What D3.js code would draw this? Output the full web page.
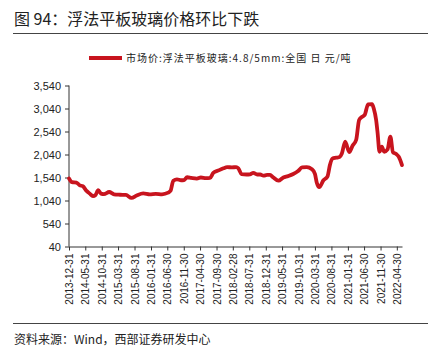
<!DOCTYPE html>
<html><head><meta charset="utf-8">
<script src="https://cdn.jsdelivr.net/npm/d3@7"></script>
<style>
body{margin:0;background:#fff;}
svg{display:block;font-family:"Liberation Sans",Arial,sans-serif;}
</style></head>
<body><svg id="c" width="439" height="356"></svg>
<script>
const title = "图 94：浮法平板玻璃价格环比下跌";
const seriesName = "市场价:浮法平板玻璃:4.8/5mm:全国 日 元/吨";
const source = "资料来源：Wind，西部证券研发中心";
const yTicks = [40, 540, 1040, 1540, 2040, 2540, 3040, 3540];
const xTickLabels = ["2013-12-31","2014-05-31","2014-10-31","2015-03-31","2015-08-31","2016-01-31","2016-06-30","2016-11-30","2017-04-30","2017-09-30","2018-02-28","2018-07-31","2018-12-31","2019-05-31","2019-10-31","2020-03-31","2020-08-31","2021-01-31","2021-06-30","2021-11-30","2022-04-30"];
const dates = ["2013-12-31","2014-01-28","2014-03-10","2014-04-10","2014-05-08","2014-06-12","2014-07-12","2014-08-10","2014-09-03","2014-09-28","2014-10-24","2014-11-20","2015-01-08","2015-02-22","2015-04-18","2015-06-12","2015-08-03","2015-09-20","2015-11-20","2016-01-20","2016-03-15","2016-05-12","2016-07-08","2016-07-30","2016-08-25","2016-09-28","2016-11-05","2016-12-03","2016-12-31","2017-02-07","2017-03-31","2017-05-08","2017-06-24","2017-07-31","2017-08-31","2017-10-15","2017-12-03","2018-01-06","2018-02-20","2018-03-31","2018-04-20","2018-05-20","2018-07-06","2018-08-06","2018-09-06","2018-10-12","2018-11-09","2018-12-09","2019-01-12","2019-02-09","2019-03-09","2019-04-27","2019-06-12","2019-07-25","2019-09-12","2019-10-27","2019-12-03","2020-01-15","2020-03-03","2020-03-31","2020-04-18","2020-05-10","2020-06-18","2020-07-25","2020-08-18","2020-09-08","2020-10-15","2020-11-15","2020-12-06","2021-01-06","2021-02-12","2021-03-15","2021-04-18","2021-05-15","2021-06-12","2021-07-06","2021-08-06","2021-09-12","2021-09-28","2021-10-20","2021-11-03","2021-11-20","2021-12-12","2022-01-03","2022-02-03","2022-03-01","2022-03-25","2022-04-24","2022-05-18","2022-06-17"];
const prices = [1520,1440,1430,1370,1350,1250,1190,1135,1160,1265,1190,1180,1225,1175,1165,1160,1095,1150,1195,1175,1185,1175,1210,1250,1470,1500,1480,1485,1545,1530,1515,1540,1525,1530,1640,1690,1740,1765,1760,1765,1740,1615,1605,1610,1640,1605,1605,1580,1595,1595,1545,1470,1540,1570,1615,1680,1760,1765,1720,1620,1420,1330,1480,1560,1820,1950,1970,1985,2060,2320,2090,2230,2360,2790,2860,2900,3130,3135,3040,2790,2500,2100,2210,2100,2150,2430,2090,2050,1990,1810];

const parse = d3.timeParse("%Y-%m-%d");
const data = dates.map((d,i)=>({date:parse(d), v:prices[i]}));
const svg = d3.select("#c");
const red = "#c8141e";
const axisColor = "#333";
const cjk = "'Noto Sans CJK SC',sans-serif";

// header
svg.append("text").attr("x",14).attr("y",25).attr("font-size",16).attr("fill","#222")
  .attr("font-family",cjk).text(title);
svg.append("line").attr("x1",13).attr("x2",428).attr("y1",33.5).attr("y2",33.5).attr("stroke","#444").attr("stroke-width",1);

// legend
svg.append("line").attr("x1",89).attr("x2",122).attr("y1",58).attr("y2",58).attr("stroke",red).attr("stroke-width",4);
svg.append("text").attr("x",126).attr("y",62).attr("font-size",10).attr("fill","#222")
  .attr("letter-spacing","1px").attr("font-family",cjk).text(seriesName);

// scales
const x = d3.scaleTime().domain([parse("2013-12-31"), parse("2022-06-17")]).range([69, 402]);
const y = d3.scaleLinear().domain([40, 3540]).range([246.5, 85.5]);

// y axis
const ya = svg.append("g").attr("transform","translate(69,0)")
  .call(d3.axisLeft(y).tickValues(yTicks).tickSize(4).tickFormat(d3.format(",")));
ya.select(".domain").attr("stroke",axisColor).attr("d","M0,85.5V246.5");
ya.selectAll(".tick line").attr("stroke",axisColor);
ya.selectAll("text").attr("font-size",11).attr("fill","#222").attr("font-family","'Liberation Sans',Arial,sans-serif").attr("x",-8);

// x axis
const xa = svg.append("g").attr("transform","translate(0,246.5)")
  .call(d3.axisBottom(x).tickValues(xTickLabels.map(parse)).tickSize(4).tickSizeOuter(0).tickFormat(d3.timeFormat("%Y-%m-%d")));
xa.select(".domain").attr("stroke",axisColor);
xa.selectAll(".tick line").attr("stroke",axisColor);
xa.selectAll("text").attr("font-size",10).attr("fill","#222").attr("font-family","'Liberation Sans',Arial,sans-serif")
  .attr("transform","rotate(-90)").attr("text-anchor","end").attr("x",-7).attr("y",0).attr("dy","0.35em");

// line
svg.append("path").datum(data)
  .attr("d", d3.line().x(d=>x(d.date)).y(d=>y(d.v)).curve(d3.curveMonotoneX))
  .attr("fill","none").attr("stroke",red).attr("stroke-width",3.8).attr("stroke-linejoin","round").attr("stroke-linecap","round");

// footer
svg.append("line").attr("x1",13).attr("x2",428).attr("y1",323.5).attr("y2",323.5).attr("stroke","#444").attr("stroke-width",1);
svg.append("text").attr("x",14).attr("y",344).attr("font-size",12).attr("fill","#222")
  .attr("font-family",cjk).text(source);
</script></body></html>
